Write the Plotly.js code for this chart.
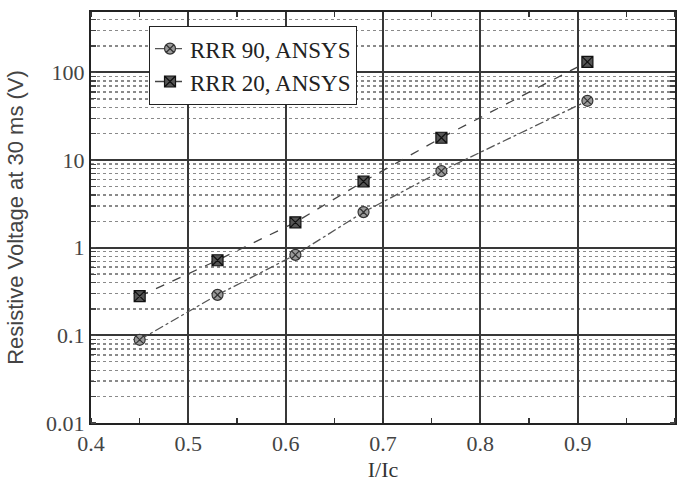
<!DOCTYPE html>
<html>
<head>
<meta charset="utf-8">
<script src="https://cdn.plot.ly/plotly-3.0.1.min.js"></script>
<style>html,body{margin:0;padding:0;background:#fff;}#chart{width:679px;height:483px;}</style>
</head>
<body>
<div id="chart"></div>
<script>
// Data
const currentRatio = [0.45, 0.53, 0.61, 0.68, 0.76, 0.91];
const rrr90Voltage = [0.089, 0.29, 0.83, 2.55, 7.5, 47.5];
const rrr20Voltage = [0.28, 0.72, 1.95, 5.7, 18.0, 132];
const seriesNames = ['RRR 90, ANSYS', 'RRR 20, ANSYS'];
const xTickVals = [0.4, 0.5, 0.6, 0.7, 0.8, 0.9, 1.0];
const xTickText = ['0.4', '0.5', '0.6', '0.7', '0.8', '0.9', '1'];
const yTickVals = [0.01, 0.1, 1, 10, 100];
const yTickText = ['0.01', '0.1', '1', '10', '100'];

const serif = '"Liberation Serif", serif';
const sans = '"Liberation Sans", sans-serif';

const traces = [
  {
    x: currentRatio, y: rrr90Voltage, name: seriesNames[0],
    type: 'scatter', mode: 'lines+markers',
    line: {color: '#555', width: 1.3, dash: 'dashdot'},
    marker: {symbol: 'circle-x', size: 11, color: '#9a9a9a', line: {color: '#333', width: 1.2}}
  },
  {
    x: currentRatio, y: rrr20Voltage, name: seriesNames[1],
    type: 'scatter', mode: 'lines+markers',
    line: {color: '#444', width: 1.3, dash: 'dash'},
    marker: {symbol: 'square-x', size: 11, color: '#555', line: {color: '#111', width: 1.2}}
  }
];

const layout = {
  width: 679, height: 483,
  margin: {l: 91, r: 4, t: 12, b: 60},
  paper_bgcolor: '#fff', plot_bgcolor: '#fff',
  showlegend: true,
  legend: {
    x: 0.099, y: 0.966, xanchor: 'left', yanchor: 'top',
    bgcolor: '#fff', bordercolor: '#222', borderwidth: 1.2,
    font: {family: serif, size: 23, color: '#222'},
    tracegroupgap: 0, itemwidth: 30
  },
  xaxis: {
    range: [0.4, 1.0],
    tickmode: 'array', tickvals: xTickVals, ticktext: xTickText,
    ticks: '', showgrid: true, gridcolor: '#383838', gridwidth: 2,
    showline: true, linecolor: '#222', linewidth: 2, mirror: 'allticks',
    zeroline: false,
    tickfont: {family: serif, size: 22, color: '#444'},
    minor: {dtick: 0.05, tick0: 0.4, ticks: 'inside', ticklen: 5, tickcolor: '#333', tickwidth: 1.5, showgrid: false},
    title: {text: 'I/Ic', font: {family: serif, size: 22, color: '#333'}, standoff: 6}
  },
  yaxis: {
    type: 'log', range: [-2, 2.69],
    tickmode: 'array', tickvals: yTickVals, ticktext: yTickText,
    ticks: '', showgrid: true, gridcolor: '#383838', gridwidth: 2,
    showline: true, linecolor: '#222', linewidth: 2, mirror: 'allticks',
    zeroline: false,
    tickfont: {family: serif, size: 22, color: '#444'},
    minor: {dtick: 'D1', ticks: 'inside', ticklen: 5, tickcolor: '#444', tickwidth: 1.2, showgrid: true, griddash: 'dot', gridcolor: '#8a8a8a', gridwidth: 1.4},
    title: {text: 'Resistive Voltage at 30 ms (V)', font: {family: sans, size: 22, color: '#444'}, standoff: 16}
  }
};

Plotly.newPlot('chart', traces, layout, {displayModeBar: false, staticPlot: true});
</script>
</body>
</html>
